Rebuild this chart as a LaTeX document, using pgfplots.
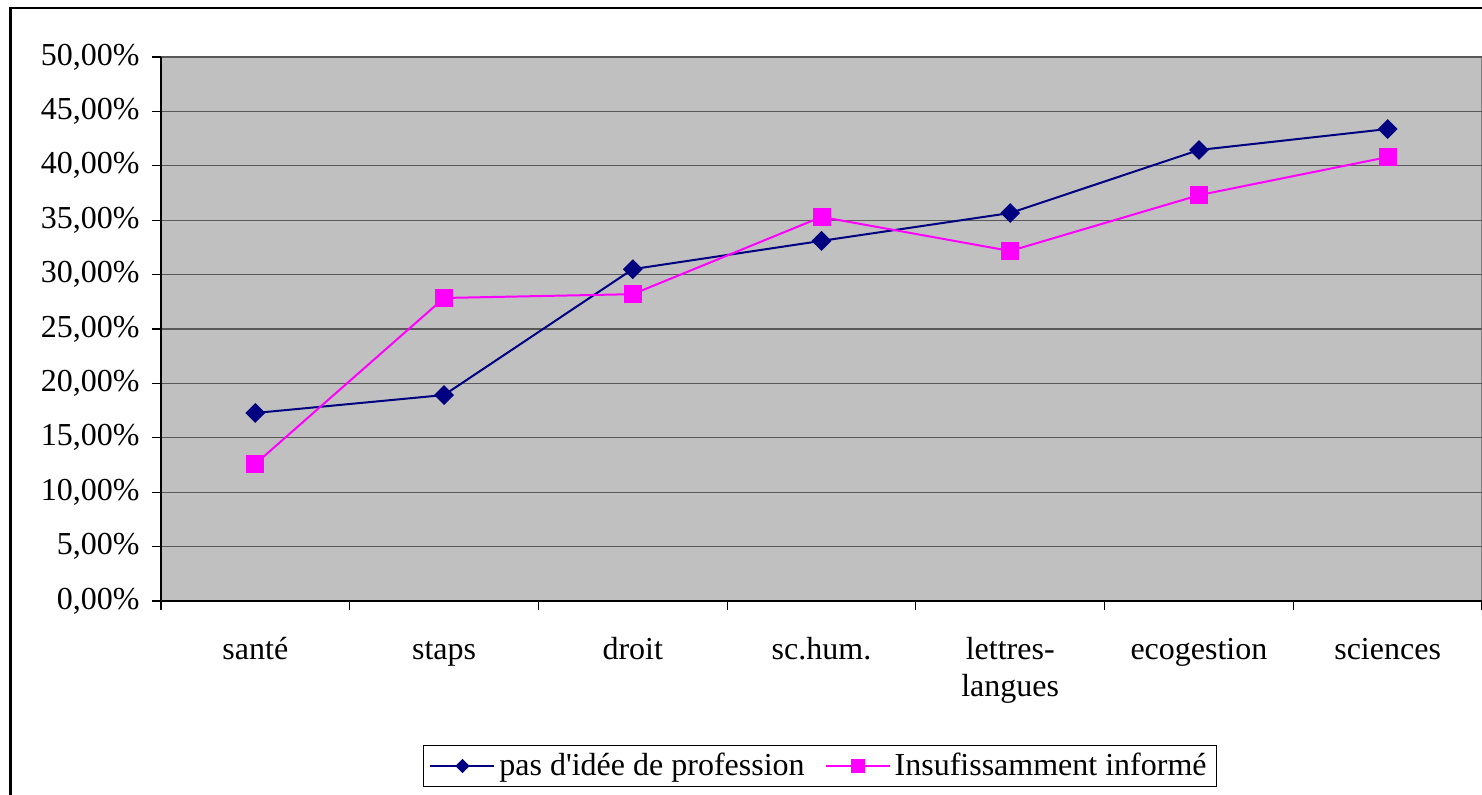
\documentclass[border=0pt]{standalone}
\usepackage{pgfplots}
\pgfplotsset{compat=1.18}
\usepackage{fontspec}
\setmainfont{Liberation Serif}
\definecolor{plotbg}{HTML}{C0C0C0}
\definecolor{navy}{HTML}{000080}
\definecolor{mag}{HTML}{FF00FF}
\begin{document}
\begin{tikzpicture}
\path[use as bounding box] (0,0) rectangle (741pt,397.5pt);
\begin{scope}
\clip (0,0) rectangle (741pt,397.5pt);
\draw[line width=1.25pt] (5.25pt,-20pt) rectangle (780pt,393.5pt);
\end{scope}
\begin{axis}[
 at={(80.5pt,97pt)}, anchor=south west,
 scale only axis, width=660.5pt, height=272pt,
 xmin=-0.5, xmax=6.5, ymin=0, ymax=50,
 axis x line*=bottom, axis y line*=left,
 axis line style={-, black, line width=0.6pt},
 axis background/.style={fill=plotbg, draw=black!50, line width=0.8pt},
 ytick={0,5,...,50},
 yticklabel={\pgfmathprintnumber[fixed,fixed zerofill,precision=2,use comma]{\tick}\%},
 /pgf/number format/assume math mode=true,
 ymajorgrids, major grid style={draw=black!65, line width=0.6pt},
 xtick={-0.5,0.5,1.5,2.5,3.5,4.5,5.5,6.5}, xticklabels={},
 extra x ticks={0,1,2,3,4,5,6},
 extra x tick labels={santé,staps,droit,sc.hum.,{lettres-\\langues},ecogestion,sciences},
 extra x tick style={major tick length=0pt},
 typeset ticklabels with strut,
 tick align=outside, major tick length=4.5pt,
 tick style={black, line width=0.6pt},
 tick label style={font=\fontsize{16}{18.5}\selectfont},
 xticklabel style={align=center, yshift=-13pt},
 yticklabel style={xshift=-2.7pt},
 legend columns=2,
 legend style={at={(axis description cs:0.4989,-0.3033)}, anchor=center,
   draw=black, line width=0.5pt, fill=white,
   font=\fontsize{16}{19}\selectfont,
   /tikz/every even column/.append style={column sep=8pt}},
 legend image code/.code={\draw[mark repeat=2,mark phase=2,#1] plot coordinates {(0pt,0pt) (16pt,0pt) (32pt,0pt)};},
]
\addplot[navy, line width=1pt, mark=square*, mark size=3pt, mark options={rotate=45, solid, fill=navy}, forget plot]
 coordinates {(0,17.28) (1,18.93) (2,30.5) (3,33.1) (4,35.66) (5,41.45) (6,43.38)};
\addplot[mag, line width=1pt, mark=square*, mark size=4pt, mark options={solid, fill=mag}, forget plot]
 coordinates {(0,12.6) (1,27.85) (2,28.2) (3,35.3) (4,32.17) (5,37.3) (6,40.8)};
\addlegendimage{navy, line width=1pt, mark=square*, mark size=2pt, mark options={rotate=45, solid, fill=navy}}
\addlegendentry{pas d\textquotesingle idée de profession}
\addlegendimage{mag, line width=1pt, mark=square*, mark size=3pt, mark options={solid, fill=mag}}
\addlegendentry{Insufissamment informé}
\end{axis}
\end{tikzpicture}
\end{document}
